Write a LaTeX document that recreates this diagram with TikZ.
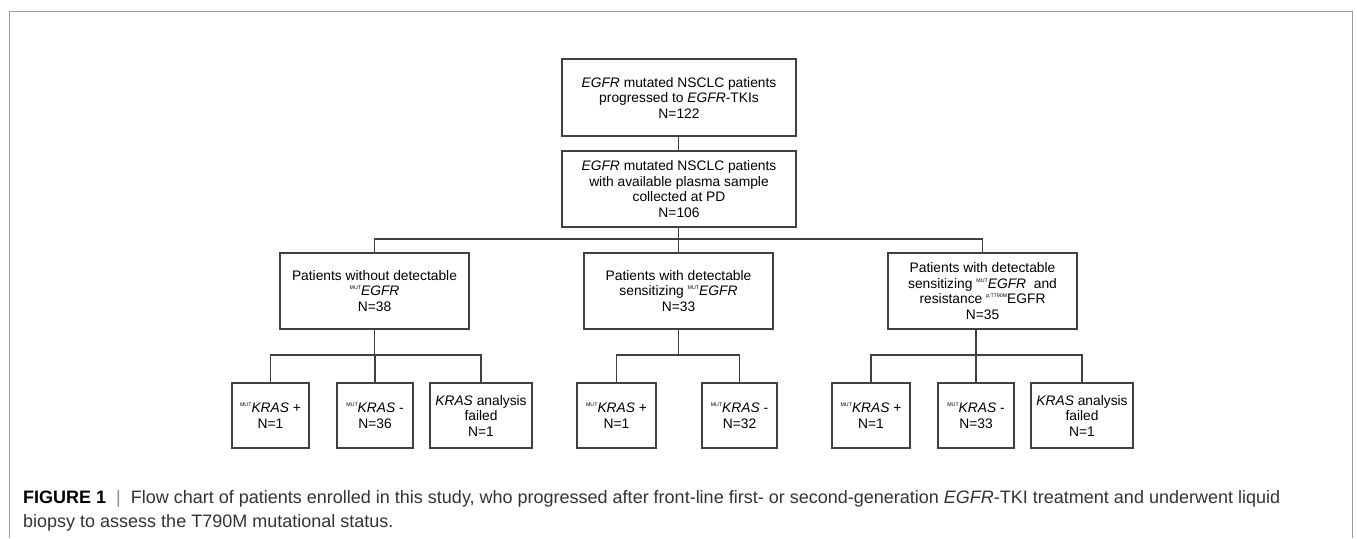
\documentclass[tikz,border=0pt]{standalone}
\usepackage{fontspec}
\setmainfont{Liberation Sans}
\usepackage{xcolor}
\usetikzlibrary{positioning, calc}

\newcommand{\supsmall}[1]{\raisebox{6pt}{\fontsize{5.3}{5.3}\selectfont #1}}
\newcommand{\mutx}{\supsmall{MUT}}

\begin{document}
\begin{tikzpicture}[
    x=1pt, y=-1pt,
    box/.style={draw=black!75, line width=1.2pt, minimum height=76pt, align=center, inner sep=0pt,
        font=\fontsize{13.8}{15.5}\selectfont},
    small/.style={box, minimum height=65pt},
    link/.style={draw=black!75, line width=1.2pt}
]
    \useasboundingbox (0,0) rectangle (1357,538);
    % outer frame
    \draw[black!38, line width=1.5pt] (9.5,538) -- (9.5,11.5) -- (1352.5,11.5) -- (1352.5,538);

    % Top boxes
    \node[box, minimum width=234pt, minimum height=77pt] (start) at (679,97.5) {
        \textit{EGFR} mutated NSCLC patients\\
        progressed to \textit{EGFR}-TKIs\\
        N=122
    };
    \node[box, minimum width=234pt] (plasma) at (679,189) {
        \textit{EGFR} mutated NSCLC patients\\
        with available plasma sample\\
        collected at PD\\
        N=106
    };

    % Second level
    \node[box, minimum width=189pt] (noegfr) at (374.5,291) {
        Patients without detectable\\
        \mutx\textit{EGFR}\\
        N=38
    };
    \node[box, minimum width=189pt] (sens) at (678.5,291) {
        Patients with detectable\\
        sensitizing \mutx\textit{EGFR}\\
        N=33
    };
    \node[box, minimum width=189pt] (resist) at (982.5,291) {
        Patients with detectable\\
        sensitizing \mutx\textit{EGFR}\ \ and\\
        resistance \supsmall{p.T790M}EGFR\\
        N=35
    };

    % KRAS boxes
    \node[small, minimum width=77pt] (aplus) at (270.5,415.5) {\mutx\textit{KRAS} +\\N=1};
    \node[small, minimum width=76pt] (aminus) at (375,415.5) {\mutx\textit{KRAS} -\\N=36};
    \node[small, minimum width=102pt] (afail) at (481,415.5) {\textit{KRAS} analysis\\failed\\N=1};
    \node[small, minimum width=79pt] (bplus) at (616.5,415.5) {\mutx\textit{KRAS} +\\N=1};
    \node[small, minimum width=75pt] (bminus) at (739.5,415.5) {\mutx\textit{KRAS} -\\N=32};
    \node[small, minimum width=78pt] (cplus) at (871,415.5) {\mutx\textit{KRAS} +\\N=1};
    \node[small, minimum width=76pt] (cminus) at (976,415.5) {\mutx\textit{KRAS} -\\N=33};
    \node[small, minimum width=102pt] (cfail) at (1082,415.5) {\textit{KRAS} analysis\\failed\\N=1};

    \coordinate (split) at (678.5,239);
    \coordinate (splita) at (374.5,355);
    \coordinate (splitb) at (678.5,355);
    \coordinate (splitc) at (976,355);

    % Connectors
    \draw[link] (start.south -| sens.north) -- (plasma.north -| sens.north);
    \draw[link] (plasma.south -| sens.north) -- (sens.north);
    \draw[link] (noegfr.north) |- (split) -| (resist.north);

    \draw[link] (noegfr.south) -- (splita);
    \draw[link] (aplus.north) |- (splita) -| (afail.north);
    \draw[link] (aminus.north) -- (aminus.north |- splita);

    \draw[link] (sens.south) -- (splitb);
    \draw[link] (bplus.north) |- (splitb) -| (bminus.north);

    \draw[link] (resist.south -| splitc) -- (cminus.north);
    \draw[link] (cplus.north) |- (splitc) -| (cfail.north);

    % Caption
    \node[anchor=base west, align=left, inner sep=0pt, text=black!80,
          font=\fontsize{18}{23.5}\selectfont] (caption) at (23,527) {
        \textcolor{black}{\textbf{FIGURE 1}}\ \ \textcolor{black!45}{|}\ \ Flow chart of patients enrolled in this study, who progressed after front-line first- or second-generation \textit{EGFR}-TKI treatment and underwent liquid\\
        biopsy to assess the T790M mutational status.
    };
\end{tikzpicture}
\end{document}
